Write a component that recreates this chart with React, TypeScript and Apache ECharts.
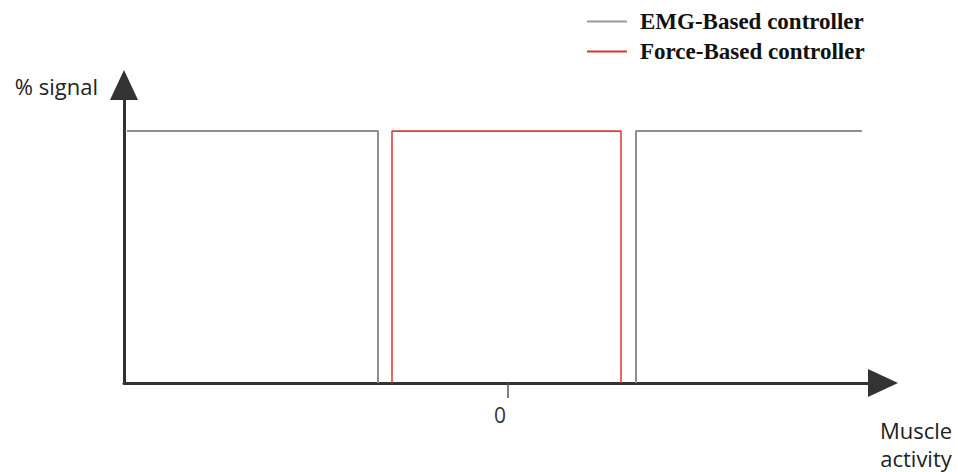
import React, { useEffect, useRef } from "react";
import * as echarts from "echarts";

// Muscle activity (x) vs % signal (y); 0 marks the rest level
const emgLeftX = [-38.1, -13, -13];
const emgLeftY = [100, 100, 0];
const emgRightX = [12.8, 12.8, 35.4];
const emgRightY = [0, 100, 100];
const forceX = [-11.6, -11.6, 11.3, 11.3];
const forceY = [0, 100, 100, 0];
const xTickValues = [0];
const seriesNames = ["EMG-Based controller", "Force-Based controller"];

const zip = (xs: number[], ys: number[]) => xs.map((x, i) => [x, ys[i]]);

export default function App() {
  const ref = useRef<HTMLDivElement>(null);
  useEffect(() => {
    if (!ref.current) return;
    const chart = echarts.init(ref.current, undefined, { renderer: "svg" });
    const axisColor = "#333333";
    chart.setOption({
      animation: false,
      backgroundColor: "#ffffff",
      grid: {
        left: 124,
        top: 85,
        width: 759,
        height: 298,
        containLabel: false,
        outerBoundsMode: "none",
      },
      legend: {
        orient: "vertical",
        left: 582,
        top: 5,
        itemWidth: 40,
        itemHeight: 2,
        itemGap: 7,
        icon: "path://M0,0H40V2H0Z",
        data: seriesNames,
        textStyle: {
          fontFamily: "Liberation Serif",
          fontWeight: "bold",
          fontSize: 23,
          color: "#111",
          padding: [0, 0, 0, 8],
        },
      },
      xAxis: {
        type: "value",
        min: -38.4,
        max: 37.5,
        splitLine: { show: false },
        axisLine: {
          show: true,
          onZero: false,
          symbol: ["none", "triangle"],
          symbolSize: [28, 30],
          lineStyle: { color: axisColor, width: 3 },
        },
        axisTick: {
          show: true,
          customValues: xTickValues,
          length: 15,
          lineStyle: { color: "#555", width: 1.5 },
        },
        axisLabel: {
          show: true,
          customValues: xTickValues,
          margin: 21,
          color: "#333",
          fontSize: 21,
          fontFamily: "Open Sans",
          padding: [0, 16, 0, 0],
        },
        name: "Muscle\nactivity",
        nameLocation: "end",
        nameGap: 33,
        nameTextStyle: {
          fontFamily: "Open Sans",
          fontSize: 22,
          color: "#222",
          align: "center",
          verticalAlign: "top",
          lineHeight: 28,
          padding: [33, 0, 0, 0],
        },
      },
      yAxis: {
        type: "value",
        min: 0,
        max: 118.3,
        splitLine: { show: false },
        axisTick: { show: false },
        axisLabel: { show: false },
        axisLine: {
          show: true,
          onZero: false,
          symbol: ["none", "triangle"],
          symbolSize: [28, 30],
          lineStyle: { color: axisColor, width: 3 },
        },
        name: "% signal",
        nameLocation: "end",
        nameGap: -1,
        nameTextStyle: {
          fontFamily: "Open Sans",
          fontSize: 22,
          color: "#222",
          align: "right",
          verticalAlign: "middle",
          padding: [0, 26, 0, 0],
        },
      },
      series: [
        {
          name: seriesNames[0],
          type: "line",
          data: zip(emgLeftX, emgLeftY),
          symbol: "none",
          lineStyle: { color: "#8f8f8f", width: 2 },
          itemStyle: { color: "#9a9a9a" },
          z: 1,
        },
        {
          name: seriesNames[0],
          type: "line",
          data: zip(emgRightX, emgRightY),
          symbol: "none",
          lineStyle: { color: "#8f8f8f", width: 2 },
          itemStyle: { color: "#9a9a9a" },
          z: 1,
        },
        {
          name: seriesNames[1],
          type: "line",
          data: zip(forceX, forceY),
          symbol: "none",
          lineStyle: { color: "#e0403a", width: 1.6 },
          itemStyle: { color: "#d0392f" },
          z: 1,
        },
      ],
    });
    return () => chart.dispose();
  }, []);
  return (
    <div
      ref={ref}
      style={{ position: "fixed", left: 0, top: 0, width: 958, height: 472 }}
    />
  );
}
